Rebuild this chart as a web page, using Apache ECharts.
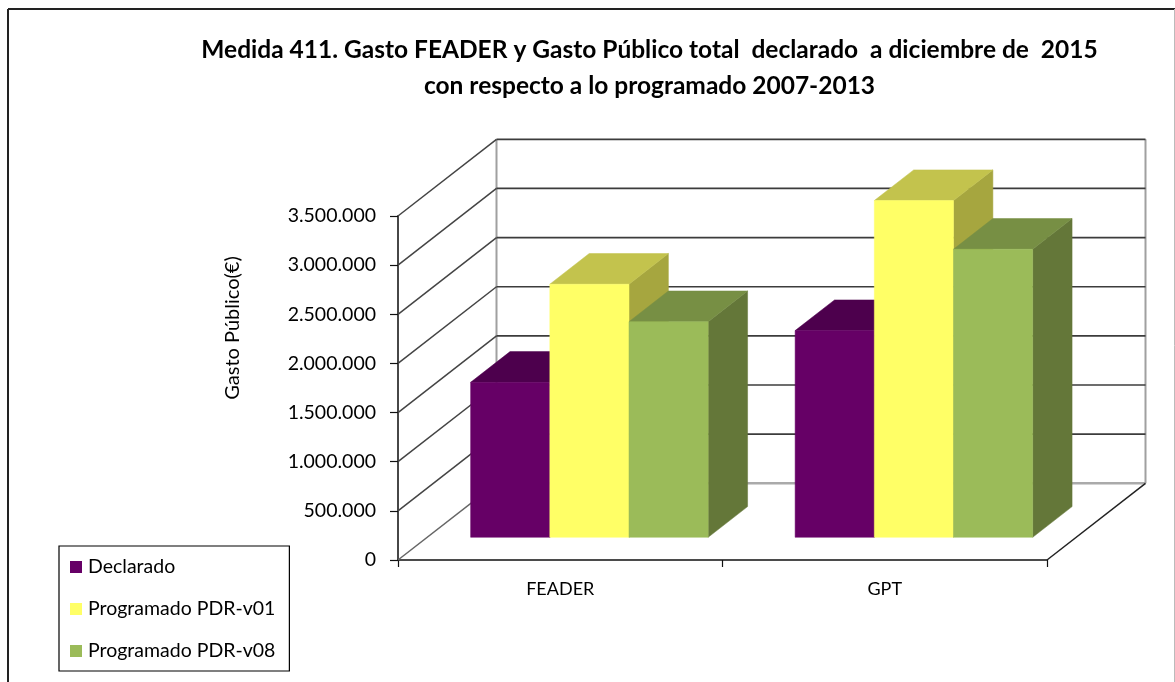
<!DOCTYPE html>
<html><head><meta charset="utf-8">
<style>html,body{margin:0;padding:0;background:#fff}#c{width:1175px;height:682px}</style>
<script src="https://cdn.jsdelivr.net/npm/echarts@6/dist/echarts.min.js"></script>
</head><body><div id="c"></div>
<script>
const categories = ['FEADER', 'GPT'];
const declarado = [1577000, 2103000];
const programadoV01 = [2575000, 3426000];
const programadoV08 = [2194000, 2931000];
const seriesNames = ['Declarado', 'Programado PDR-v01', 'Programado PDR-v08'];
const yTicks = [0, 500000, 1000000, 1500000, 2000000, 2500000, 3000000, 3500000];
const titleLines = 'Medida 411. Gasto FEADER y Gasto Público total  declarado  a diciembre de  2015\ncon respecto a lo programado 2007-2013';
const yName = 'Gasto Público(€)';

const FONT = 'Lato';
const DX = 98.5, DY = -76.7;            // full floor depth projected on screen
const BAR_D0 = 0.296, BAR_D1 = 0.696;   // bar depth range within floor
const BAR_FRAC = 0.244;                 // bar width as fraction of band
const faces = [
  {front:'#660066', top:'#4d004d', side:'#4d004d'},
  {front:'#ffff66', top:'#c3c34d', side:'#a6a63f'},
  {front:'#9bbb59', top:'#778f44', side:'#647739'}
];
const poly = (pts, fill) => ({type:'polygon', shape:{points:pts}, style:{fill:fill, stroke:fill, lineWidth:0.5}});
const line = (a, b, color, w) => ({type:'line', shape:{x1:a[0],y1:a[1],x2:b[0],y2:b[1]}, style:{stroke:color, lineWidth:w}});

function barSeries(name, values, idx){
  return {
    name, type:'custom', z:5+idx, clip:false,
    itemStyle:{color:faces[idx].front},
    encode:{x:0,y:1},
    data: values.map((v,i)=>[i,v]),
    renderItem(params, api){
      const cat = api.value(0), val = api.value(1);
      const band = api.size([1,0])[0], w = band*BAR_FRAC;
      const base = api.coord([cat,0]), top = api.coord([cat,val]);
      const x0 = base[0] + (idx-1.5)*w + DX*BAR_D0;
      const x1 = x0 + w;
      const yb = base[1] + DY*BAR_D0, yt = top[1] + DY*BAR_D0;
      const ddx = DX*(BAR_D1-BAR_D0), ddy = DY*(BAR_D1-BAR_D0);
      const f = faces[idx];
      return {type:'group', children:[
        poly([[x1,yt],[x1+ddx,yt+ddy],[x1+ddx,yb+ddy],[x1,yb]], f.side),
        poly([[x0,yt],[x0+ddx,yt+ddy],[x1+ddx,yt+ddy],[x1,yt]], f.top),
        poly([[x0,yt],[x1,yt],[x1,yb],[x0,yb]], f.front)
      ]};
    }
  };
}

const wallSeries = {
  type:'custom', z:1, silent:true, clip:false, legendHoverLink:false,
  encode:{y:0},
  data: yTicks.map(v=>[v]),
  renderItem(params, api){
    const v = api.value(0);
    const size = api.size([1,0])[0];
    const l = api.coord([0,v]); const fx = l[0]-size/2, y = l[1];
    const rx = fx + size*categories.length;
    const kids = [];
    kids.push(line([fx,y],[fx+DX,y+DY], v===0?'#666':'#444',1.5));
    kids.push(line([fx+DX,y+DY],[rx+DX,y+DY], v===0?'#aaa':'#3c3c3c', v===0?2.5:1.7));
    if (v === 0){
      const t = api.coord([0,yTicks[yTicks.length-1]])[1];
      kids.push(line([fx+DX,y+DY],[fx+DX,t+DY],'#a0a0a0',2));
      kids.push(line([rx+DX,y+DY],[rx+DX,t+DY],'#a0a0a0',2));
      kids.push(line([rx,y],[rx+DX,y+DY],'#222',1.5));
    }
    return {type:'group', children:kids};
  }
};

const chart = echarts.init(document.getElementById('c'), null, {renderer:'canvas'});
chart.setOption({
  animation:false,
  backgroundColor:'#fff',
  textStyle:{fontFamily:FONT},
  title:{
    text:titleLines, left:644.5, top:27, textAlign:'center',
    textStyle:{fontFamily:FONT, fontWeight:'bold', fontSize:24.5, lineHeight:36, color:'#000'}
  },
  legend:{
    data:seriesNames, orient:'vertical', left:59, top:546, padding:[11,14,10,11],
    icon:'rect', itemWidth:12, itemHeight:12, itemGap:22, selectedMode:false,
    borderColor:'#000', borderWidth:1.2, backgroundColor:'#fff',
    textStyle:{fontFamily:FONT, fontSize:19.5, lineHeight:20, color:'#000', padding:[0,0,0,1]}
  },
  grid:{left:398, top:216, width:649, height:344},
  xAxis:{
    type:'category', data:categories, boundaryGap:true,
    axisLine:{lineStyle:{color:'#111',width:1.5}},
    axisTick:{show:true, length:7, lineStyle:{color:'#111',width:1.2}},
    axisLabel:{fontFamily:FONT, fontSize:18, color:'#000', margin:20},
    splitLine:{show:false}
  },
  yAxis:{
    type:'value', min:0, max:3500000, interval:500000,
    name:yName, nameLocation:'middle', nameGap:155, nameRotate:90,
    nameTextStyle:{fontFamily:FONT, fontSize:20, color:'#000', padding:[0,0,0,120]},
    axisLine:{show:true, lineStyle:{color:'#333',width:1.8}},
    axisTick:{show:true, length:8, lineStyle:{color:'#111',width:1.2}},
    axisLabel:{fontFamily:FONT, fontSize:19.5, color:'#000', margin:22, padding:[4,0,0,0],
      formatter:v=>String(v).replace(/\B(?=(\d{3})+(?!\d))/g,'.')},
    splitLine:{show:false}
  },
  graphic:[
    {type:'line', z:-1, silent:true, shape:{x1:8,y1:9,x2:1175,y2:9}, style:{stroke:'#222',lineWidth:2}},
    {type:'line', z:-1, silent:true, shape:{x1:8,y1:9,x2:8,y2:682}, style:{stroke:'#222',lineWidth:2}},
    {type:'line', z:-1, silent:true, shape:{x1:1174.5,y1:9,x2:1174.5,y2:682}, style:{stroke:'#bbb',lineWidth:1}}
  ],
  series:[wallSeries,
    barSeries(seriesNames[0], declarado, 0),
    barSeries(seriesNames[1], programadoV01, 1),
    barSeries(seriesNames[2], programadoV08, 2)]
});
</script></body></html>
